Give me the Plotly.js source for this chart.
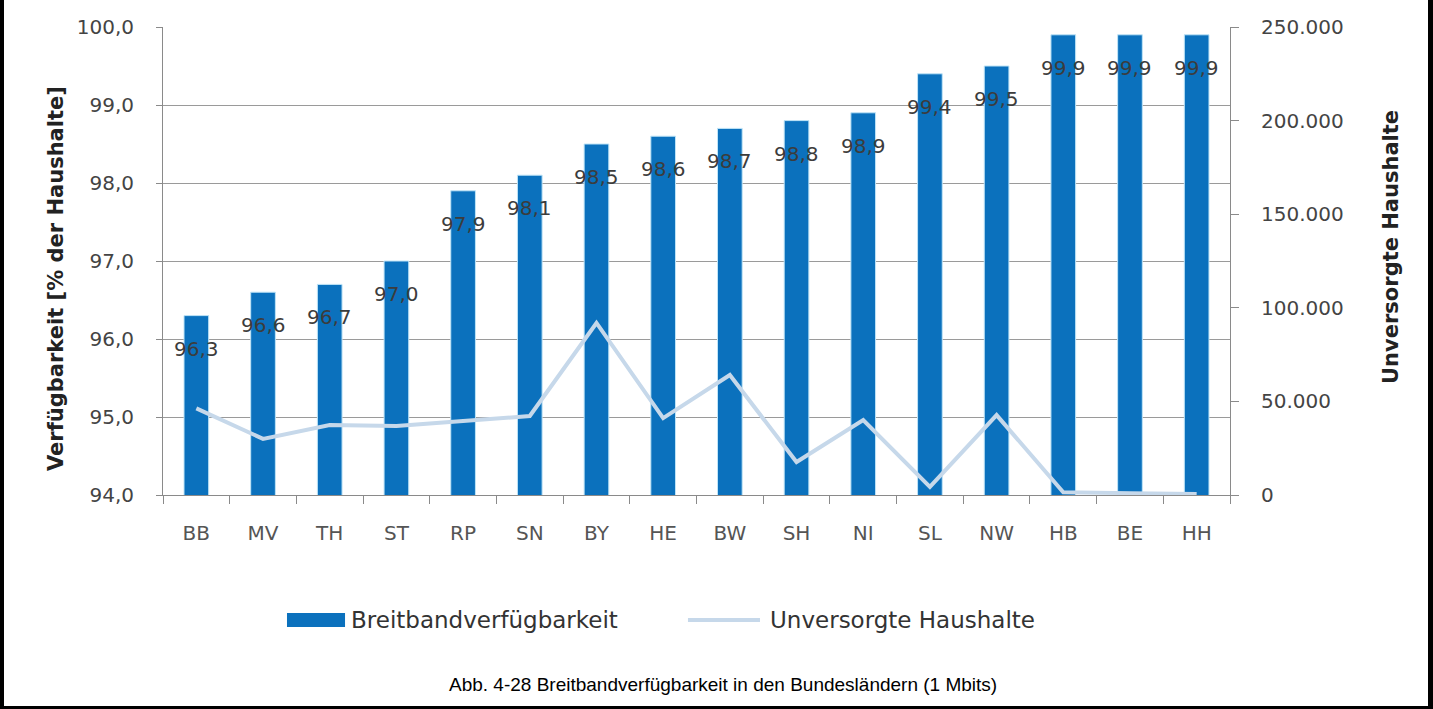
<!DOCTYPE html>
<html>
<head>
<meta charset="utf-8">
<script src="https://cdn.plot.ly/plotly-3.0.1.min.js"></script>
<style>
  html, body { margin: 0; padding: 0; background: #fff; }
  #wrap { position: relative; width: 1433px; height: 709px; }
  #chart { width: 1433px; height: 709px; }
  #frame { position: absolute; left: 0; top: 0; width: 1433px; height: 709px; box-sizing: border-box;
           border-left: 4px solid #000; border-right: 5px solid #000; border-bottom: 3px solid #000; pointer-events: none; }
</style>
</head>
<body>
<div id="wrap">
  <div id="chart"></div>
  <div id="frame"></div>
</div>
<script>
// Data
const laender = ["BB","MV","TH","ST","RP","SN","BY","HE","BW","SH","NI","SL","NW","HB","BE","HH"];
const verfuegbarkeit = [96.3, 96.6, 96.7, 97.0, 97.9, 98.1, 98.5, 98.6, 98.7, 98.8, 98.9, 99.4, 99.5, 99.9, 99.9, 99.9];
const unversorgt = [46300, 30000, 37400, 36900, 39500, 42200, 91900, 41100, 64100, 17600, 40000, 4300, 42700, 1500, 1000, 600];
const leftTicks = [94, 95, 96, 97, 98, 99, 100];
const rightTicks = [0, 50000, 100000, 150000, 200000, 250000];
const seriesNames = ["Breitbandverfügbarkeit", "Unversorgte Haushalte"];
const leftTitle = "Verfügbarkeit [% der Haushalte]";
const rightTitle = "Unversorgte Haushalte";
const caption = "Abb. 4-28 Breitbandverfügbarkeit in den Bundesländern (1 Mbits)";

const barColor = "#0b71bd";
const lineColor = "#c6d8ea";
const txt = "#3c3c3c";
const FONT = "DejaVu Sans, Open Sans, sans-serif";

const fmt = v => v.toFixed(1).replace(".", ",");

const traces = [
  {
    type: "bar", x: laender, y: verfuegbarkeit, name: seriesNames[0],
    marker: { color: barColor, line: { color: "#bfe4f7", width: 1 } },
    width: 0.37, yaxis: "y", hoverinfo: "x+y", showlegend: false
  },
  {
    type: "scatter", mode: "lines", x: laender, y: unversorgt, name: seriesNames[1],
    line: { color: lineColor, width: 4 }, yaxis: "y2", showlegend: false
  }
];

const annotations = laender.map((c, i) => ({
  x: c, y: verfuegbarkeit[i], xref: "x", yref: "y",
  text: fmt(verfuegbarkeit[i]), showarrow: false, yshift: -33, yanchor: "middle",
  font: { family: FONT, size: 20, color: txt }
}));

annotations.push(
  { xref: "paper", yref: "paper", x: -0.1134, y: 0.4615, yanchor: "middle", text: leftTitle, textangle: -90, showarrow: false,
    font: { family: FONT, size: 21, color: "#222", weight: "bold" } },
  { xref: "paper", yref: "paper", x: 1.164, y: 0.53, yanchor: "middle", text: rightTitle, textangle: -90, showarrow: false,
    font: { family: FONT, size: 21, color: "#222", weight: "bold" } },
  { xref: "paper", yref: "paper", x: 0.1743, y: -0.267, xanchor: "left", yanchor: "middle", text: seriesNames[0], showarrow: false,
    font: { family: FONT, size: 23, color: "#333" } },
  { xref: "paper", yref: "paper", x: 0.567, y: -0.267, xanchor: "left", yanchor: "middle", text: seriesNames[1], showarrow: false,
    font: { family: FONT, size: 23, color: "#333" } },
  { xref: "paper", yref: "paper", x: 0.525, y: -0.404, yanchor: "middle", text: caption, showarrow: false,
    font: { family: "Liberation Sans, Arial, sans-serif", size: 19, color: "#000" } }
);

const shapes = [
  { type: "rect", xref: "paper", yref: "paper", x0: 0.1162, x1: 0.1706, y0: -0.2521, y1: -0.2821,
    fillcolor: barColor, line: { width: 0 } },
  { type: "line", xref: "paper", yref: "paper", x0: 0.492, x1: 0.5595, y0: -0.267, y1: -0.267,
    line: { color: lineColor, width: 4 } }
];

const layout = {
  width: 1433, height: 709,
  margin: { l: 163, r: 203, t: 27, b: 214 },
  paper_bgcolor: "#fff", plot_bgcolor: "#fff",
  separators: ",.",
  showlegend: false,
  bargap: 0.63,
  font: { family: FONT, color: txt },
  xaxis: {
    type: "category", tickvals: laender, ticktext: laender,
    showline: true, linecolor: "#8a8a8a", linewidth: 1,
    ticks: "outside", tickson: "boundaries", ticklen: 8, tickcolor: "#8a8a8a",
    ticklabelstandoff: 20, tickfont: { family: FONT, size: 20, color: "#555" },
    showgrid: false, zeroline: false, fixedrange: true
  },
  yaxis: {
    range: [94, 100], tickvals: leftTicks, tickformat: ".1f",
    showline: true, linecolor: "#8a8a8a", linewidth: 1,
    ticks: "outside", ticklen: 6, tickcolor: "#8a8a8a",
    ticklabelstandoff: 18, tickfont: { family: FONT, size: 20, color: "#444" },
    showgrid: true, gridcolor: "#9a9a9a", gridwidth: 1, zeroline: false
  },
  yaxis2: {
    overlaying: "y", side: "right", range: [0, 250000], tickvals: rightTicks, tickformat: ",d",
    showline: true, linecolor: "#8a8a8a", linewidth: 1,
    ticks: "outside", ticklen: 8, tickcolor: "#8a8a8a",
    ticklabelstandoff: 18, tickfont: { family: FONT, size: 20, color: "#444" },
    showgrid: false, zeroline: false
  },
  annotations: annotations,
  shapes: shapes
};

Plotly.newPlot("chart", traces, layout, { displayModeBar: false, staticPlot: true });
</script>
</body>
</html>
